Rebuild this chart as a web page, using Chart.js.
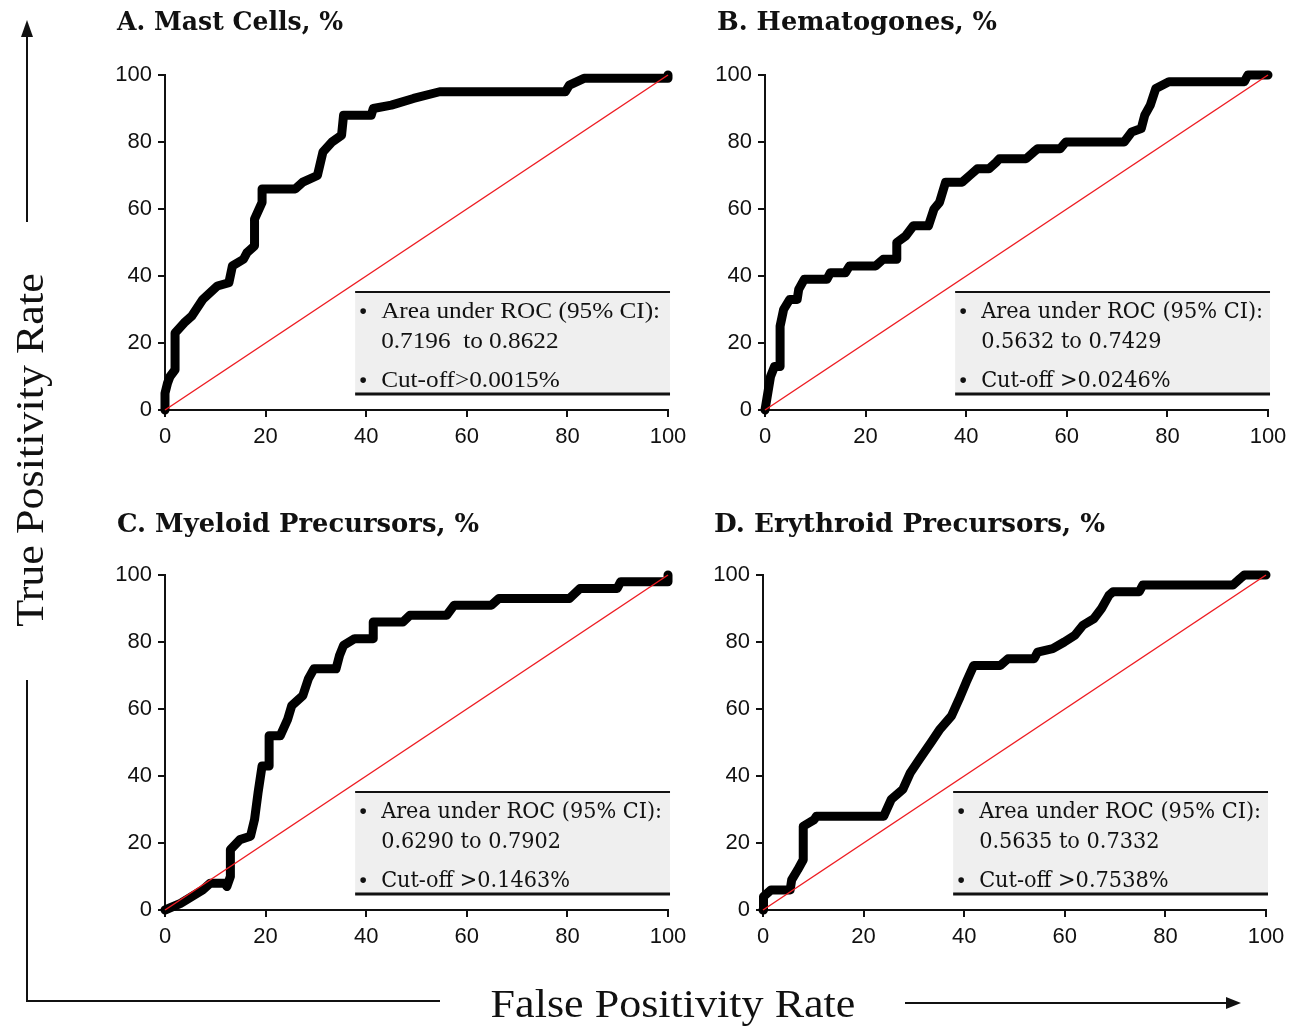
<!DOCTYPE html>
<html>
<head>
<meta charset="utf-8">
<script src="https://cdn.jsdelivr.net/npm/chart.js@4.4.1/dist/chart.umd.min.js"></script>
<style>
    body { margin: 0; background: #fff; width: 1307px; height: 1026px; position: relative; overflow: hidden; }
    canvas { position: absolute; }
    .lbl { position: absolute; font-family: 'Liberation Serif', serif; color: #111; white-space: nowrap; line-height: 1; }
    svg { position: absolute; left: 0; top: 0; }
</style>
</head>
<body>
<canvas id="cA" width="600" height="470" style="left:100px;top:0px;width:600px;height:470px"></canvas>
<canvas id="cB" width="600" height="470" style="left:700px;top:0px;width:600px;height:470px"></canvas>
<canvas id="cC" width="600" height="470" style="left:100px;top:500px;width:600px;height:470px"></canvas>
<canvas id="cD" width="600" height="470" style="left:698px;top:500px;width:600px;height:470px"></canvas>

<svg width="1307" height="1026">
    <g stroke="#111" stroke-width="2" fill="none">
        <line x1="27" y1="222" x2="27" y2="34"></line>
        <polyline points="27,680 27,1001 440,1001"></polyline>
        <line x1="905" y1="1003" x2="1228" y2="1003"></line>
    </g>
    <polygon points="27,20 21,37 33,37" fill="#111"></polygon>
    <polygon points="1241,1003 1226,997 1226,1009" fill="#111"></polygon>
</svg>
<div class="lbl" id="yl" style="left:29px;top:450px;font-size:39px;transform:translate(-50%,-50%) rotate(-90deg) scaleX(1.13)">True Positivity Rate</div>
<div class="lbl" id="xl" style="left:673px;top:1003px;font-size:39px;transform:translate(-50%,-50%) scaleX(1.13)">False Positivity Rate</div>

<script>
// ROC curves (false positive rate %, true positive rate %)
const fprA = [0, 0, 0, 0.5, 1, 1, 2, 2, 3.8, 5.3, 7.5, 10.4, 12.7, 13.4, 15.6, 16.3, 17.8, 17.8, 19.3, 19.3, 25.9, 27.4, 30.3, 31.4, 33.2, 35.1, 35.5, 41, 41.4, 45, 49.4, 54.6, 79.6, 80.4, 83.3, 100, 100];
const tprA = [0, 3, 5, 8, 10, 10, 12, 23, 26, 28, 33, 37, 38, 43, 45, 47, 49, 57, 62, 66, 66, 68, 70, 77, 80, 82, 88, 88, 90, 91, 93, 95, 95, 97, 99, 99, 100];

const fprB = [0, 1.1, 1.9, 3, 3, 3.7, 4.9, 6.4, 6.7, 7.8, 12.3, 13, 16, 16.8, 22, 23.5, 26.2, 26.2, 28, 29.5, 32.5, 33.6, 34.7, 35.9, 39.2, 40.7, 42.2, 44.5, 46, 46.6, 51.9, 53.4, 54.2, 58.7, 59.8, 71.4, 72.9, 74.8, 75.5, 76.6, 77.7, 80.3, 95.3, 96, 100];
const tprB = [0, 10, 13, 13, 25, 30, 33, 33, 36, 39, 39, 41, 41, 43, 43, 45, 45, 50, 52, 55, 55, 60, 62, 68, 68, 70, 72, 72, 74, 75, 75, 77, 78, 78, 80, 80, 83, 84, 88, 91, 96, 98, 98, 100, 100];

const fprC = [0, 3.1, 5.3, 7.5, 9, 11.9, 12.3, 13, 13, 14.9, 17, 17.8, 18.5, 19.3, 20.7, 20.7, 22.9, 24.4, 25.2, 27.4, 28.5, 29.6, 34, 34.7, 35.5, 37.7, 41.4, 41.4, 47.3, 48.7, 56, 57.5, 64.9, 66.4, 80.4, 82.5, 89.9, 90.6, 100, 100];
const tprC = [0, 2, 4, 6, 8, 8, 7, 10, 18, 21, 22, 27, 35, 43, 43, 52, 52, 57, 61, 64, 69, 72, 72, 76, 79, 81, 81, 86, 86, 88, 88, 91, 91, 93, 93, 96, 96, 98, 98, 100];

const fprD = [0, 0.1, 1.6, 5.4, 5.7, 6.9, 8, 8, 10.2, 10.6, 24, 25.5, 27.8, 29.3, 31.1, 33.4, 35.2, 37.5, 39, 40.4, 41.9, 47.2, 48.7, 53.9, 54.6, 57.6, 59.9, 62, 63.6, 65.8, 67.3, 68.8, 69.6, 74.8, 75.5, 93.4, 94.9, 95.7, 100];
const tprD = [0, 4, 6, 6, 9, 12, 15, 25, 27, 28, 28, 33, 36, 41, 45, 50, 54, 58, 63, 68, 73, 73, 75, 75, 77, 78, 80, 82, 85, 87, 90, 94, 95, 95, 97, 97, 99, 100, 100];

const diagonal = [0, 100];
const axisTicks = [0, 20, 40, 60, 80, 100];

const titles = ['A. Mast Cells, %', 'B. Hematogones, %', 'C. Myeloid Precursors, %', 'D. Erythroid Precursors, %'];
const aucLine = 'Area under ROC (95% CI):';
const ciText = ['0.7196  to 0.8622', '0.5632 to 0.7429', '0.6290 to 0.7902', '0.5635 to 0.7332'];
const cutoffText = ['Cut-off>0.0015%', 'Cut-off >0.0246%', 'Cut-off >0.1463%', 'Cut-off >0.7538%'];

// draws text squeezed/stretched horizontally to a given width
function drawFit(ctx, text, x, y, w) {
    const m = ctx.measureText(text).width;
    ctx.save();
    ctx.translate(x, y);
    ctx.scale(w / m, 1);
    ctx.fillText(text, 0, 0);
    ctx.restore();
}

// grey annotation box + panel title
const rocBox = {
    id: 'rocBox',
    beforeDatasetsDraw(chart, args, o) {
        const { ctx, scales: { x, y } } = chart;
        const l = x.getPixelForValue(o.box[0]);
        const r = x.getPixelForValue(o.box[1]);
        const t = y.getPixelForValue(o.box[2]);
        const b = y.getPixelForValue(o.box[3]);
        ctx.save();
        ctx.fillStyle = '#efefef';
        ctx.fillRect(l, t, r - l, b - t);
        ctx.strokeStyle = '#111';
        ctx.lineWidth = 2;
        ctx.beginPath();
        ctx.moveTo(l, t); ctx.lineTo(r, t);
        ctx.stroke();
        ctx.lineWidth = 3;
        ctx.beginPath();
        ctx.moveTo(l, b); ctx.lineTo(r, b);
        ctx.stroke();

        ctx.fillStyle = '#111';
        ctx.font = o.font;
        ctx.textBaseline = 'alphabetic';
        const sx = o.width / ctx.measureText(o.lines[0]).width;
        const tx = l + 26;
        const rows = [[o.lines[0], t + 26, true], [o.lines[1], t + 56, false], [o.lines[2], t + 95, true]];
        rows.forEach(([txt, by, bullet]) => {
            if (bullet) {
                ctx.beginPath();
                ctx.arc(l + 8, by - 7, 2.8, 0, Math.PI * 2);
                ctx.fill();
            }
            drawFit(ctx, txt, tx, by, ctx.measureText(txt).width * sx);
        });
        ctx.restore();
    },
    afterDraw(chart, args, o) {
        const ctx = chart.ctx;
        ctx.save();
        ctx.fillStyle = '#111';
        ctx.font = 'bold 26px "DejaVu Serif"';
        ctx.textBaseline = 'alphabetic';
        drawFit(ctx, o.title, o.titlePos[0], o.titlePos[1], o.titlePos[2]);
        ctx.restore();
    }
};

function makePanel(id, fpr, tpr, idx, textFont, textWidth, titlePos) {
    const tickFont = { family: '"Liberation Sans", Arial, sans-serif', size: 22 };
    const axis = (fit) => ({
        type: 'linear',
        min: axisTicks[0],
        max: axisTicks[axisTicks.length - 1],
        afterBuildTicks: (s) => { s.ticks = axisTicks.map(v => ({ value: v })); },
        ticks: { font: tickFont, color: '#111', padding: 6 },
        grid: { drawOnChartArea: false, tickLength: 7, color: '#111', lineWidth: 2 },
        border: { color: '#111', width: 2 },
        afterFit: fit
    });
    return new Chart(document.getElementById(id), {
        type: 'scatter',
        data: {
            datasets: [
                {
                    data: diagonal.map(v => ({ x: v, y: v })),
                    showLine: true,
                    borderColor: '#ee1d23',
                    borderWidth: 1.5,
                    pointRadius: 0,
                    order: 0,
                    clip: false
                },
                {
                    data: fpr.map((x, i) => ({ x: x, y: tpr[i] })),
                    showLine: true,
                    borderColor: '#000',
                    borderWidth: 9,
                    borderJoinStyle: 'round',
                    borderCapStyle: 'round',
                    pointRadius: 0,
                    order: 1,
                    clip: false
                }
            ]
        },
        options: {
            responsive: false,
            animation: false,
            events: [],
            layout: { padding: { top: 75, right: 32, left: 0, bottom: 0 } },
            plugins: {
                legend: { display: false },
                tooltip: { enabled: false },
                rocBox: {
                    box: [37.8, 100.4, 35.2, 4.8],
                    font: textFont,
                    width: textWidth,
                    lines: [aucLine, ciText[idx], cutoffText[idx]],
                    title: titles[idx],
                    titlePos: titlePos
                }
            },
            scales: {
                x: Object.assign(axis((s) => { s.height = 60; }), { ticks: { font: tickFont, color: '#111', padding: 7, maxRotation: 0 } }),
                y: axis((s) => { s.width = 65; })
            }
        },
        plugins: [rocBox]
    });
}

makePanel('cA', fprA, tprA, 0, '24px "Liberation Serif"', 279, [17, 30, 226]);
makePanel('cB', fprB, tprB, 1, '22px "DejaVu Serif"', 282, [17, 30, 280]);
makePanel('cC', fprC, tprC, 2, '22px "DejaVu Serif"', 281, [17, 32, 362]);
makePanel('cD', fprD, tprD, 3, '22px "DejaVu Serif"', 282, [16, 32, 391]);
</script>
</body>
</html>
